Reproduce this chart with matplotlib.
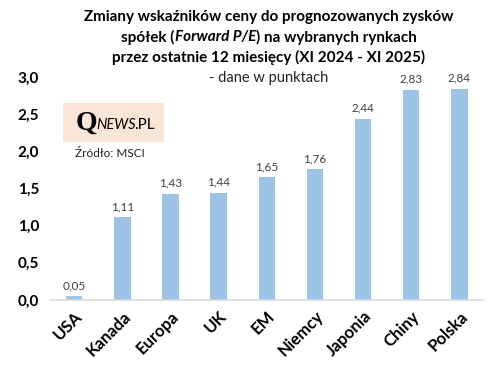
import numpy as np
import matplotlib.pyplot as plt
from matplotlib.patches import Rectangle

plt.rcParams['font.family'] = ['Lato', 'DejaVu Sans']

kraje = ['USA', 'Kanada', 'Europa', 'UK', 'EM', 'Niemcy', 'Japonia', 'Chiny', 'Polska']
zmiana = [0.05, 1.11, 1.43, 1.44, 1.65, 1.76, 2.44, 2.83, 2.84]
yticks = [0.0, 0.5, 1.0, 1.5, 2.0, 2.5, 3.0]

barColor = '#9DC3E6'
textColor = '#404040'

fig = plt.figure(figsize=(5.01, 3.82), dpi=100)
ax = fig.add_axes([0.1, 0.215, 0.865, 0.583])

x = np.arange(len(kraje))
ax.bar(x, zmiana, width=0.34, color=barColor)
for xi, v in zip(x, zmiana):
    ax.text(xi, v + 0.07, f'{v:.2f}'.replace('.', ','), ha='center', va='bottom',
            fontsize=8.5, color=textColor)

ax.set_xlim(-0.5, len(kraje) - 0.5)
ax.set_ylim(0, 3.0)
ax.set_yticks(yticks)
ax.set_yticklabels([f'{t:.1f}'.replace('.', ',') for t in yticks], fontsize=11, fontweight='bold')
ax.set_xticks(x)
ax.set_xticklabels(kraje, rotation=45, ha='right', rotation_mode='anchor',
                   fontsize=12, fontweight='bold')
ax.tick_params(length=0, pad=8)
ax.tick_params(axis='x', pad=6)
for s in ['top', 'right', 'left']:
    ax.spines[s].set_visible(False)
ax.spines['bottom'].set_color('#d9d9d9')
ax.spines['bottom'].set_linewidth(1.2)

renderer = fig.canvas.get_renderer()


def row(parts, xc, y, **kw):
    # parts: list of (text, extra kwargs); laid out side by side, centred on xc
    texts = [fig.text(0, y, s, va='center', ha='left', **kw, **p) for s, p in parts]
    widths = [t.get_window_extent(renderer).width / fig.bbox.width for t in texts]
    x0 = xc - sum(widths) / 2
    for t, w in zip(texts, widths):
        t.set_x(x0)
        x0 += w
    return texts


# title
tc = 0.537
fig.text(tc, 0.955, 'Zmiany wskaźników ceny do prognozowanych zysków', ha='center', va='center',
         fontsize=11, fontweight='bold')
row([('spółek (', {}), ('Forward P/E', {'fontstyle': 'italic'}), (') na wybranych rynkach', {})],
    tc, 0.902, fontsize=11, fontweight='bold')
fig.text(tc, 0.849, 'przez ostatnie 12 miesięcy (XI 2024 - XI 2025)', ha='center', va='center',
         fontsize=11, fontweight='bold')
fig.text(tc, 0.797, '- dane w punktach', ha='center', va='center', fontsize=10.5, color='#222222')

# logo
fig.patches.append(Rectangle((63 / 501, 1 - 142 / 382), 101 / 501, 39 / 382, transform=fig.transFigure,
                             facecolor='#FBE5D6', edgecolor='none', zorder=0))
q = fig.text(76 / 501, 1 - 123 / 382, 'Q', fontsize=20, fontweight='bold', family='Liberation Serif',
             va='center', ha='left')
qw = q.get_window_extent(renderer).x1 / fig.bbox.width
n = fig.text(qw - 1 / 501, 1 - 125 / 382, 'NEWS', fontsize=10.5, fontstyle='italic', va='center', ha='left')
nw = n.get_window_extent(renderer).x1 / fig.bbox.width
fig.text(nw - 2 / 501, 1 - 125 / 382, '.PL', fontsize=11, va='center', ha='left')
fig.text(75 / 501, 1 - 153 / 382, 'Źródło: MSCI', fontsize=8.5, va='center', ha='left', color='#222222')

fig.savefig('out.png', dpi=100)
